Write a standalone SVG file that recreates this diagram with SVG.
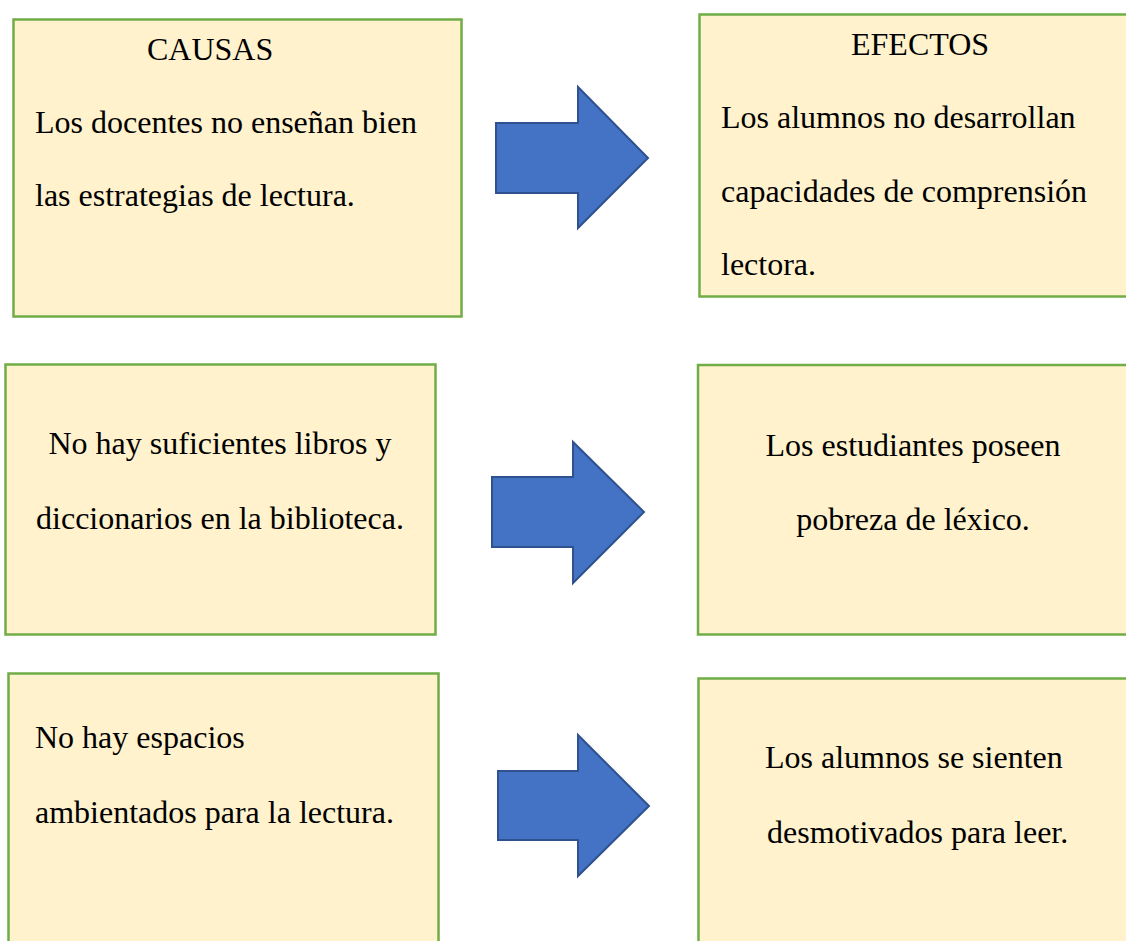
<svg xmlns="http://www.w3.org/2000/svg" width="1126" height="941" viewBox="0 0 1126 941">
<style>
.box{fill:#FFF2CC;stroke:#70AD47;stroke-width:2.5}
.arr{fill:#4472C4;stroke:#2F528F;stroke-width:2;stroke-linejoin:miter}
text{font-family:"Liberation Serif","Times New Roman",serif;font-size:32px;fill:#000}
.c{text-anchor:middle}
</style>
<rect width="1126" height="941" fill="#fff"/>
<g id="causa1">
<rect class="box" x="13.5" y="19.5" width="448" height="297"/>
<text x="147" y="60">CAUSAS</text>
<text x="35" y="133">Los docentes no enseñan bien</text>
<text x="35" y="206">las estrategias de lectura.</text>
</g>
<g id="efecto1">
<rect class="box" x="699.5" y="14.5" width="440" height="282"/>
<text x="851" y="55">EFECTOS</text>
<text x="721" y="128">Los alumnos no desarrollan</text>
<text x="721" y="202">capacidades de comprensión</text>
<text x="721" y="275">lectora.</text>
</g>
<g id="causa2">
<rect class="box" x="5.5" y="364.5" width="430" height="270"/>
<text class="c" x="220" y="454">No hay suficientes libros y</text>
<text class="c" x="220" y="529">diccionarios en la biblioteca.</text>
</g>
<g id="efecto2">
<rect class="box" x="698" y="365" width="440" height="269.5"/>
<text class="c" x="913" y="456">Los estudiantes poseen</text>
<text class="c" x="913" y="530">pobreza de léxico.</text>
</g>
<g id="causa3">
<rect class="box" x="8.5" y="673.5" width="430" height="280"/>
<text x="35" y="748">No hay espacios</text>
<text x="35" y="823">ambientados para la lectura.</text>
</g>
<g id="efecto3">
<rect class="box" x="698.5" y="678.5" width="440" height="280"/>
<text x="765" y="768">Los alumnos se sienten</text>
<text x="767" y="843">desmotivados para leer.</text>
</g>
<g id="connectors">
<polygon class="arr" points="496,123 578,123 578,87 648,158 578,228 578,193 496,193"/>
<polygon class="arr" points="492,477 573,477 573,442 644,512 573,583 573,547 492,547"/>
<polygon class="arr" points="498,771 578,771 578,735 649,806 578,876 578,840 498,840"/>
</g>
</svg>
